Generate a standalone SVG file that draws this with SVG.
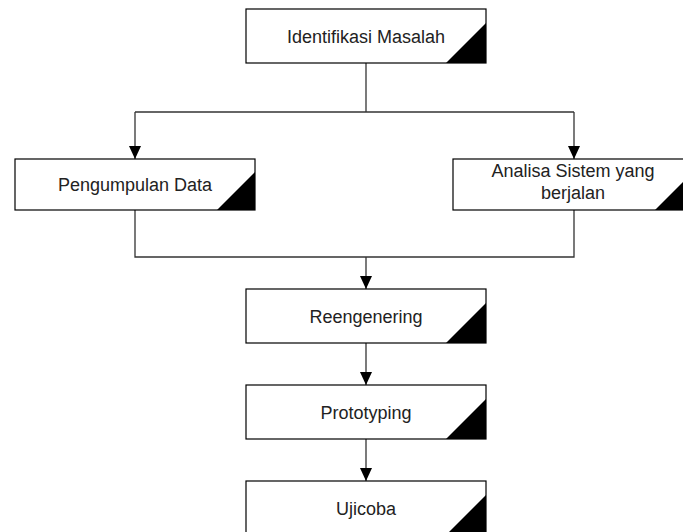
<svg xmlns="http://www.w3.org/2000/svg" width="683" height="532" viewBox="0 0 683 532">
<style>
.box{fill:#fff;stroke:#000;stroke-width:1.2}
.tri{fill:#000}
.lbl{font-family:"Liberation Sans",Arial,sans-serif;font-size:18px;fill:#222;text-anchor:middle}
.con{fill:none;stroke:#333;stroke-width:1.3}
</style>
<defs>
<marker id="ah" viewBox="0 0 13 12" refX="13" refY="6" markerWidth="13" markerHeight="12" markerUnits="userSpaceOnUse" orient="auto">
<path d="M0,0 L13,6 L0,12 Z" fill="#000"/>
</marker>
</defs>
<rect width="683" height="532" fill="#fff"/>
<g id="connectors">
<path class="con" d="M366,63 V112"/>
<path class="con" d="M135,112 H574"/>
<path class="con" d="M135,112 V159" marker-end="url(#ah)"/>
<path class="con" d="M574,112 V159" marker-end="url(#ah)"/>
<path class="con" d="M135,210 V257 H574 V210"/>
<path class="con" d="M366,257 V289" marker-end="url(#ah)"/>
<path class="con" d="M366,343 V385" marker-end="url(#ah)"/>
<path class="con" d="M366,439 V481" marker-end="url(#ah)"/>
</g>
<g id="identifikasi">
<rect class="box" x="246" y="9" width="240" height="54"/>
<polygon class="tri" points="446,63 486,63 486,23"/>
<text class="lbl" x="366" y="42.5">Identifikasi Masalah</text>
</g>
<g id="pengumpulan">
<rect class="box" x="15" y="159" width="240" height="51"/>
<polygon class="tri" points="217,210 255,210 255,172"/>
<text class="lbl" x="135" y="191">Pengumpulan Data</text>
</g>
<g id="analisa">
<rect class="box" x="453" y="159" width="240" height="51"/>
<polygon class="tri" points="655,210 693,210 693,172"/>
<text class="lbl" x="573" y="177">Analisa Sistem yang</text>
<text class="lbl" x="573" y="199">berjalan</text>
</g>
<g id="reengenering">
<rect class="box" x="246" y="289" width="240" height="54"/>
<polygon class="tri" points="446,343 486,343 486,303"/>
<text class="lbl" x="366" y="322.5">Reengenering</text>
</g>
<g id="prototyping">
<rect class="box" x="246" y="385" width="240" height="54"/>
<polygon class="tri" points="446,439 486,439 486,399"/>
<text class="lbl" x="366" y="418.5">Prototyping</text>
</g>
<g id="ujicoba">
<rect class="box" x="246" y="481" width="240" height="54"/>
<polygon class="tri" points="446,535 486,535 486,495"/>
<text class="lbl" x="366" y="514.5">Ujicoba</text>
</g>
</svg>
